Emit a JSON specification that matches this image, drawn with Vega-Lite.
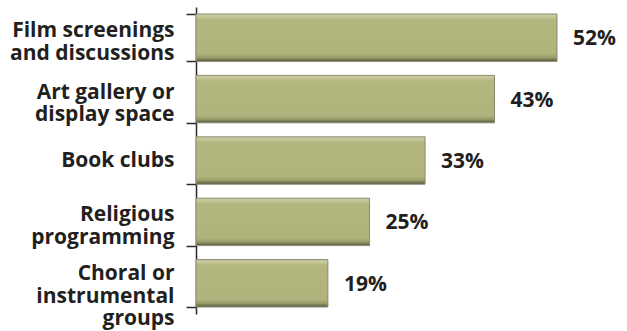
{
  "$schema": "https://vega.github.io/schema/vega-lite/v6.json",
  "autosize": "none",
  "width": 420,
  "height": 307,
  "padding": {"left": 196, "top": 7, "right": 11, "bottom": 17},
  "background": "white",
  "data": {"values": [
    {"activity": "Film screenings|and discussions", "pct": 0.52},
    {"activity": "Art gallery or|display space", "pct": 0.43},
    {"activity": "Book clubs", "pct": 0.33},
    {"activity": "Religious|programming", "pct": 0.25},
    {"activity": "Choral or|instrumental|groups", "pct": 0.19}
  ]},
  "config": {"view": {"stroke": null}},
  "encoding": {
    "y": {
      "field": "activity", "type": "nominal", "sort": null,
      "scale": {"paddingInner": 0.228, "paddingOuter": 0.114},
      "axis": {
        "title": null,
        "labelExpr": "datum.value ? split(datum.value, '|') : ''",
        "labelOffset": {"expr": "datum.value ? (length(split(datum.value, '|')) > 2 ? -9.5 : (length(split(datum.value, '|')) > 1 ? -7 : 0)) : 0"},
        "labelFont": "Open Sans",
        "labelFontSize": 21,
        "labelFontWeight": "bold",
        "labelColor": "#231f20",
        "labelLineHeight": 22.5,
        "labelPadding": 12,
        "labelLimit": 300,
        "tickBand": "extent",
        "tickSize": 10,
        "tickColor": "#2b2b2b",
        "tickWidth": 1.5,
        "domainColor": "#2b2b2b",
        "domainWidth": 1.5
      }
    },
    "x": {
      "field": "pct", "type": "quantitative",
      "scale": {"domain": [0, 0.605], "nice": false},
      "axis": null
    }
  },
  "layer": [
    {
      "mark": {
        "type": "bar",
        "stroke": "#8a8b74",
        "strokeWidth": 1,
        "color": {
          "gradient": "linear", "x1": 0, "y1": 0, "x2": 0, "y2": 1,
          "stops": [
            {"offset": 0, "color": "#cdcfa6"},
            {"offset": 0.07, "color": "#c1c392"},
            {"offset": 0.12, "color": "#b3b67e"},
            {"offset": 0.84, "color": "#b0b37b"},
            {"offset": 0.92, "color": "#9a9d69"},
            {"offset": 1, "color": "#55573a"}
          ]
        }
      }
    },
    {
      "mark": {
        "type": "text",
        "align": "left",
        "baseline": "middle",
        "dx": 16,
        "dy": 1.5,
        "font": "Open Sans",
        "fontSize": 21,
        "fontWeight": "bold",
        "color": "#231f20"
      },
      "encoding": {
        "text": {"field": "pct", "type": "quantitative", "format": ".0%"}
      }
    }
  ]
}
